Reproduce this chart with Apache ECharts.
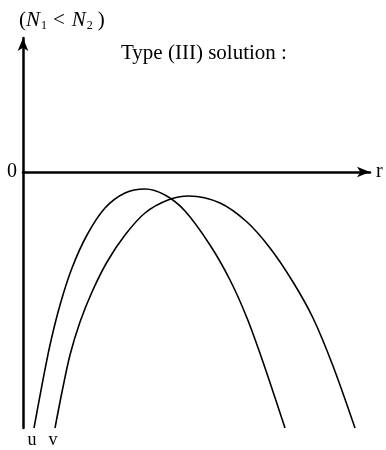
<!DOCTYPE html>
<html>
<head>
<meta charset="utf-8">
<script src="https://cdn.jsdelivr.net/npm/echarts@6/dist/echarts.min.js"></script>
<style>
  html, body { margin: 0; padding: 0; background: #fff; }
  #chart { width: 386px; height: 450px; }
</style>
</head>
<body>
<div id="chart"></div>
<script>
// Profiles of u and v against r, as [r, value] pairs
const uPoints = [
  [0.11, -2.56], [0.19, -2.13], [0.27, -1.73], [0.37, -1.33], [0.49, -0.96],
  [0.64, -0.63], [0.82, -0.36], [1.02, -0.21], [1.22, -0.17], [1.42, -0.23],
  [1.62, -0.39], [1.87, -0.73], [2.07, -1.08], [2.24, -1.46], [2.40, -1.90],
  [2.62, -2.56]
];
const vPoints = [
  [0.32, -2.56], [0.39, -2.20], [0.47, -1.83], [0.57, -1.50], [0.69, -1.20],
  [0.84, -0.90], [1.02, -0.63], [1.22, -0.41], [1.45, -0.28], [1.66, -0.24],
  [1.97, -0.31], [2.24, -0.50], [2.47, -0.76], [2.70, -1.10], [2.90, -1.46],
  [3.10, -1.94], [3.32, -2.56]
];
const seriesNames = ['u', 'v'];
const yTickLabels = [0];
const titleText = 'Type (III) solution :';

const serif = '"Liberation Serif", "DejaVu Serif", serif';

function curve(name, pts) {
  return {
    name: name,
    type: 'line',
    smooth: 0.3,
    symbol: 'circle',
    symbolSize: 0,
    showSymbol: true,
    showAllSymbol: true,
    lineStyle: { color: '#000', width: 1.6 },
    itemStyle: { color: '#000' },
    data: pts.map((p, i) => i === 0 ? {
      value: p,
      label: {
        show: true, position: 'bottom', distance: 3, offset: [-2, 0],
        formatter: name, color: '#000', fontFamily: serif, fontSize: 18
      }
    } : p),
    z: 3
  };
}

const chart = echarts.init(document.getElementById('chart'), null, { renderer: 'canvas' });
chart.setOption({
  animation: false,
  backgroundColor: '#fff',
  title: {
    text: titleText,
    left: 116, top: 38,
    textStyle: { fontFamily: serif, fontSize: 21, fontWeight: 'normal', color: '#000' }
  },
  grid: { left: 23, right: 16, top: 38, bottom: 22, containLabel: false },
  xAxis: {
    type: 'value', min: 0, max: 3.47,
    name: 'r', nameLocation: 'end', nameGap: 6,
    nameTextStyle: { fontFamily: serif, fontSize: 20, color: '#000', verticalAlign: 'middle', padding: [0, 0, 3, 0] },
    axisLine: { onZero: true, symbol: ['none', 'arrow'], symbolSize: [8, 13], lineStyle: { color: '#000', width: 2.5 } },
    axisTick: { show: false }, axisLabel: { show: false }, splitLine: { show: false }
  },
  yAxis: {
    type: 'value', min: -2.56, max: 1.34,
    name: '{p|(}{n|N}{s|1}{g|<}{n|N}{s|2}{q|)}',
    nameLocation: 'end', nameGap: 6,
    nameTextStyle: {
      align: 'left', padding: [0, 0, 0, -4],
      rich: {
        p: { fontFamily: serif, fontSize: 21, color: '#000' },
        q: { fontFamily: serif, fontSize: 21, color: '#000', padding: [0, 0, 0, 5] },
        g: { fontFamily: serif, fontSize: 21, color: '#000', padding: [0, 7, 0, 6] },
        n: { fontFamily: serif, fontSize: 21, fontStyle: 'italic', color: '#000' },
        s: { fontFamily: serif, fontSize: 12, color: '#000', padding: [11, 0, 0, 1] }
      }
    },
    axisLine: { symbol: ['none', 'arrow'], symbolSize: [8, 13], lineStyle: { color: '#000', width: 2.5 } },
    axisTick: { show: false },
    axisLabel: { customValues: yTickLabels, fontFamily: serif, fontSize: 20, color: '#000', margin: 6 },
    splitLine: { show: false }
  },
  series: [curve(seriesNames[0], uPoints), curve(seriesNames[1], vPoints)]
});
</script>
</body>
</html>
